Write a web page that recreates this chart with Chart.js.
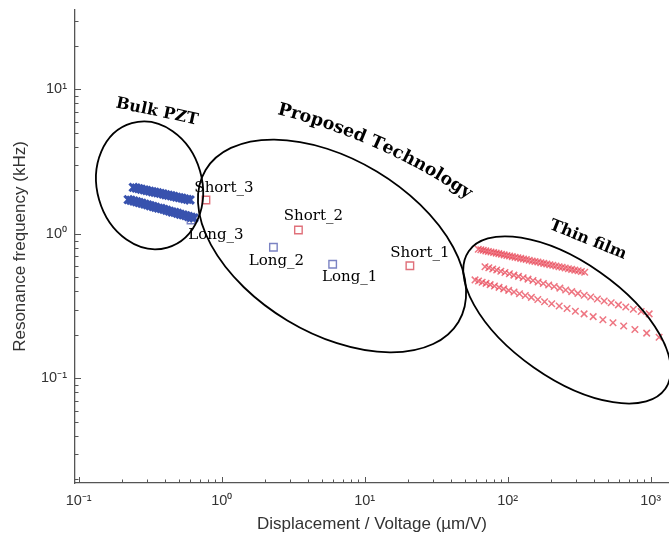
<!DOCTYPE html>
<html>
<head>
<meta charset="utf-8">
<script src="https://cdn.jsdelivr.net/npm/chart.js@4.4.1/dist/chart.umd.min.js"></script>
<style>
  html, body { margin: 0; padding: 0; background: #fff; }
  canvas { display: block; }
</style>
</head>
<body>
<canvas id="chart" width="669" height="538"></canvas>
<script>
// Bulk PZT (two dense bands)
const bulkUpperX = [0.241, 0.252, 0.263, 0.274, 0.287, 0.299, 0.313, 0.327, 0.341, 0.356, 0.372, 0.389, 0.406, 0.424, 0.443, 0.462, 0.483, 0.505, 0.527, 0.550, 0.575, 0.600];
const bulkUpperY = [2.10, 2.08, 2.06, 2.04, 2.02, 2.00, 1.98, 1.96, 1.945, 1.93, 1.91, 1.89, 1.87, 1.855, 1.84, 1.82, 1.80, 1.785, 1.77, 1.75, 1.735, 1.72];
const bulkLowerX = [0.222, 0.232, 0.243, 0.254, 0.265, 0.277, 0.290, 0.303, 0.316, 0.331, 0.345, 0.361, 0.377, 0.394, 0.412, 0.431, 0.450, 0.470, 0.491, 0.513, 0.537, 0.561, 0.586, 0.613, 0.640];
const bulkLowerY = [1.73, 1.71, 1.69, 1.67, 1.65, 1.63, 1.61, 1.59, 1.57, 1.55, 1.53, 1.51, 1.50, 1.48, 1.46, 1.44, 1.42, 1.41, 1.39, 1.37, 1.355, 1.34, 1.32, 1.305, 1.29];

// Proposed technology devices
const shortNames = ['Short_1', 'Short_2', 'Short_3'];
const shortX = [20.7, 3.44, 0.776];
const shortY = [0.603, 1.066, 1.72];
const longNames = ['Long_1', 'Long_2', 'Long_3'];
const longX = [5.97, 2.30, 0.61];
const longY = [0.617, 0.809, 1.25];

// Thin film (three series)
const thinAX = [62.3, 64.9, 67.5, 70.3, 73.3, 76.4, 79.7, 83.1, 86.7, 90.5, 94.5, 98.7, 103.1, 107.7, 112.6, 117.8, 123.3, 129.0, 134.9, 141.4, 148.2, 155.2, 162.6, 170.4, 178.8, 187.7, 197.0, 206.8, 217.3, 228.5, 240.2, 252.5, 265.8, 279.9, 294.6, 310.7, 327.6, 345.6];
const thinAY = [0.784, 0.777, 0.771, 0.764, 0.757, 0.750, 0.744, 0.737, 0.731, 0.724, 0.717, 0.710, 0.704, 0.697, 0.691, 0.684, 0.678, 0.671, 0.665, 0.658, 0.651, 0.645, 0.639, 0.632, 0.626, 0.619, 0.613, 0.607, 0.600, 0.594, 0.588, 0.581, 0.575, 0.569, 0.562, 0.556, 0.550, 0.544];
const thinBX = [69.4, 73.8, 78.6, 83.8, 89.5, 95.7, 102.8, 110.5, 119.0, 128.3, 138.7, 150.3, 163.2, 177.4, 193.5, 211.4, 231.7, 254.4, 280.4, 309.7, 342.8, 380.5, 424.0, 473.0, 529.4, 594.6, 669.8, 756.8, 858.3, 976.1];
const thinBY = [0.594, 0.583, 0.573, 0.563, 0.552, 0.541, 0.530, 0.519, 0.509, 0.498, 0.487, 0.477, 0.465, 0.454, 0.444, 0.433, 0.422, 0.410, 0.399, 0.388, 0.377, 0.366, 0.355, 0.344, 0.334, 0.323, 0.312, 0.301, 0.291, 0.280];
const thinCX = [59.1, 62.5, 66.3, 70.6, 75.4, 80.8, 87.0, 93.8, 101.6, 110.7, 120.9, 132.8, 146.4, 162.4, 181.1, 203.1, 229.2, 260.3, 297.4, 342.2, 396.2, 463.2, 545.0, 647.5, 775.5, 937.6, 1145];
const thinCY = [0.481, 0.472, 0.464, 0.455, 0.446, 0.437, 0.427, 0.417, 0.407, 0.397, 0.386, 0.375, 0.364, 0.352, 0.340, 0.329, 0.317, 0.305, 0.292, 0.280, 0.268, 0.255, 0.243, 0.231, 0.218, 0.206, 0.193];

// axis decades that get a label
const xTickExps = [-1, 0, 1, 2, 3];
const yTickExps = [-1, 0, 1];

// group outlines: centre in data units, radii in px, rotation in deg
const groupRings = [
  { cx: 0.313, cy: 2.17, rx: 52.5, ry: 64.7, rot: -16 },
  { cx: 5.91, cy: 0.826, rx: 147.5, ry: 86.9, rot: 31 },
  { cx: 260, cy: 0.254, rx: 120, ry: 58, rot: 35 }
];
// label offsets from the marker (px)
const shortOffsets = [[10, -13], [15, -14], [18, -12]];
const longOffsets = [[17, 13], [3, 14], [25, 15]];

const toPoints = (xs, ys) => xs.map((x, i) => ({ x: x, y: ys[i] }));

const SUP = { '-': '\u207B', '0': '\u2070', '1': '\u00B9', '2': '\u00B2', '3': '\u00B3' };
function powLabel(v, exps) {
  const e = Math.log10(v);
  const r = Math.round(e);
  if (Math.abs(e - r) > 1e-6 || !exps.includes(r)) return '';
  return '10' + String(r).split('').map(c => SUP[c]).join('');
}

// text bent along a circle, starting at a data point
function arcText(ctx, text, x0, y0, startDeg, radius) {
  const t0 = startDeg * Math.PI / 180;
  const cx = x0 - Math.sin(t0) * radius;
  const cy = y0 + Math.cos(t0) * radius;
  let a = t0 - Math.PI / 2;
  for (const ch of text) {
    const w = ctx.measureText(ch).width;
    const ac = a + (w / 2) / radius;
    ctx.save();
    ctx.translate(cx + radius * Math.cos(ac), cy + radius * Math.sin(ac));
    ctx.rotate(ac + Math.PI / 2);
    ctx.fillText(ch, 0, 0);
    ctx.restore();
    a += w / radius;
  }
}

const overlay = {
  id: 'overlay',
  afterDatasetsDraw(chart) {
    const { ctx, chartArea: area } = chart;
    const xs = chart.scales.x, ys = chart.scales.y;
    ctx.save();

    // inward tick marks
    ctx.strokeStyle = '#555';
    ctx.lineWidth = 1;
    for (let e = -2; e <= 3; e++) {
      for (let k = 1; k <= 9; k++) {
        const v = k * Math.pow(10, e);
        const len = k === 1 ? 6 : 3.5;
        if (v >= xs.min && v <= xs.max) {
          const p = Math.round(xs.getPixelForValue(v)) + 0.5;
          ctx.beginPath(); ctx.moveTo(p, area.bottom); ctx.lineTo(p, area.bottom - len); ctx.stroke();
        }
        if (v >= ys.min && v <= ys.max) {
          const p = Math.round(ys.getPixelForValue(v)) + 0.5;
          ctx.beginPath(); ctx.moveTo(area.left, p); ctx.lineTo(area.left + len, p); ctx.stroke();
        }
      }
    }

    // group outlines
    ctx.strokeStyle = '#000';
    ctx.lineWidth = 1.8;
    groupRings.forEach(g => {
      ctx.beginPath();
      ctx.ellipse(xs.getPixelForValue(g.cx), ys.getPixelForValue(g.cy), g.rx, g.ry, g.rot * Math.PI / 180, 0, Math.PI * 2);
      ctx.stroke();
    });

    // device names
    ctx.fillStyle = '#000';
    ctx.font = '15px "DejaVu Serif", serif';
    ctx.textAlign = 'center';
    ctx.textBaseline = 'middle';
    shortNames.forEach((n, i) => {
      ctx.fillText(n, xs.getPixelForValue(shortX[i]) + shortOffsets[i][0], ys.getPixelForValue(shortY[i]) + shortOffsets[i][1]);
    });
    longNames.forEach((n, i) => {
      ctx.fillText(n, xs.getPixelForValue(longX[i]) + longOffsets[i][0], ys.getPixelForValue(longY[i]) + longOffsets[i][1]);
    });

    // group titles
    ctx.font = 'bold 16px "DejaVu Serif", serif';
    ctx.save();
    ctx.translate(xs.getPixelForValue(0.353), ys.getPixelForValue(6.99));
    ctx.rotate(12 * Math.PI / 180);
    ctx.fillText('Bulk PZT', 0, 0);
    ctx.restore();

    ctx.save();
    ctx.translate(xs.getPixelForValue(364), ys.getPixelForValue(0.909));
    ctx.rotate(22 * Math.PI / 180);
    ctx.fillText('Thin film', 0, 0);
    ctx.restore();

    ctx.font = 'bold 17.5px "DejaVu Serif", serif';
    ctx.textAlign = 'center';
    ctx.textBaseline = 'alphabetic';
    arcText(ctx, 'Proposed Technology', xs.getPixelForValue(2.436), ys.getPixelForValue(6.77), 14, 600);

    ctx.restore();
  }
};

const axisFont = { family: '"Liberation Sans", Arial, sans-serif', size: 14.5 };

new Chart(document.getElementById('chart'), {
  type: 'scatter',
  data: {
    datasets: [
      { data: toPoints(bulkUpperX, bulkUpperY), pointStyle: 'crossRot', radius: 5.5, borderWidth: 3, borderColor: '#3852ae' },
      { data: toPoints(bulkLowerX, bulkLowerY), pointStyle: 'crossRot', radius: 5.5, borderWidth: 3, borderColor: '#3852ae' },
      { data: toPoints(shortX, shortY), pointStyle: 'rect', radius: 5.3, borderWidth: 1.4, borderColor: '#e0707a', backgroundColor: 'rgba(255,255,255,0)' },
      { data: toPoints(longX, longY), pointStyle: 'rect', radius: 5.3, borderWidth: 1.4, borderColor: '#7b83c3', backgroundColor: 'rgba(255,255,255,0)' },
      { data: toPoints(thinAX, thinAY), pointStyle: 'crossRot', radius: 4.6, borderWidth: 1.5, borderColor: 'rgba(232,72,88,0.75)' },
      { data: toPoints(thinBX, thinBY), pointStyle: 'crossRot', radius: 4.6, borderWidth: 1.5, borderColor: 'rgba(232,72,88,0.75)' },
      { data: toPoints(thinCX, thinCY), pointStyle: 'crossRot', radius: 4.6, borderWidth: 1.5, borderColor: 'rgba(232,72,88,0.75)' }
    ]
  },
  options: {
    responsive: false,
    animation: false,
    layout: { autoPadding: false, padding: { top: 10, right: 0, bottom: 0, left: 0 } },
    plugins: { legend: { display: false }, tooltip: { enabled: false } },
    scales: {
      x: {
        type: 'logarithmic',
        min: 0.0942,
        max: 1343,
        grid: { display: false, drawTicks: false },
        border: { display: true, color: '#555', width: 1.3 },
        ticks: {
          autoSkip: false, maxRotation: 0, minRotation: 0, padding: 9,
          color: '#333', font: axisFont,
          callback: v => powLabel(v, xTickExps)
        },
        title: {
          display: true, text: 'Displacement / Voltage (\u00B5m/V)', color: '#333',
          font: { family: '"Liberation Sans", Arial, sans-serif', size: 17 },
          padding: { top: 0, bottom: 3 }
        },
        afterFit: s => { s.height = 55; s.paddingLeft = 0; s.paddingRight = 0; }
      },
      y: {
        type: 'logarithmic',
        min: 0.0189,
        max: 35.5,
        grid: { display: false, drawTicks: false },
        border: { display: true, color: '#555', width: 1.3 },
        ticks: {
          autoSkip: false, padding: 8,
          color: '#333', font: axisFont,
          callback: v => powLabel(v, yTickExps)
        },
        title: {
          display: true, text: 'Resonance frequency (kHz)', color: '#333',
          font: { family: '"Liberation Sans", Arial, sans-serif', size: 17 },
          padding: { top: 10, bottom: 0 }
        },
        afterFit: s => { s.width = 75; s.paddingTop = 0; s.paddingBottom = 0; }
      }
    }
  },
  plugins: [overlay]
});
</script>
</body>
</html>
